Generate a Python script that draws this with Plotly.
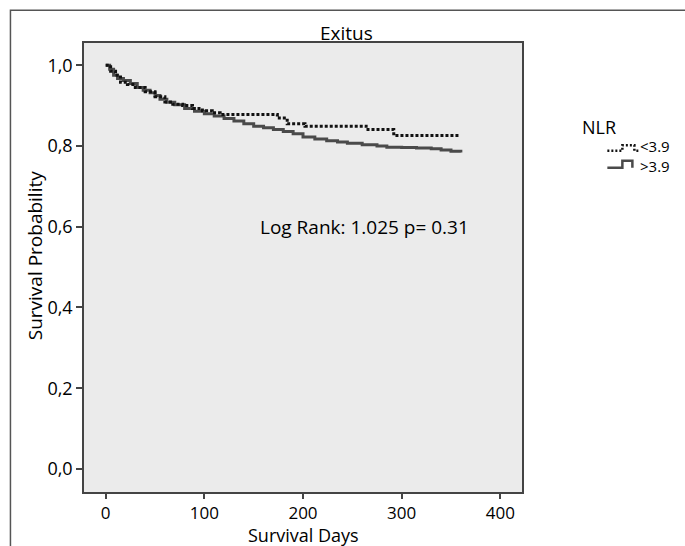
import plotly.graph_objects as go

# ---- data ----
days_high = [0, 4, 8, 12, 18, 25, 32, 38, 45, 50, 55, 62, 70, 80, 90, 100, 110, 120, 130,
             140, 150, 160, 170, 180, 190, 200, 212, 224, 235, 245, 260, 275, 285, 300,
             315, 330, 340, 350, 360]
surv_high = [1.0, 0.99, 0.975, 0.967, 0.962, 0.955, 0.945, 0.938, 0.932, 0.925, 0.916, 0.908,
             0.902, 0.893, 0.886, 0.880, 0.874, 0.868, 0.862, 0.855, 0.849, 0.845, 0.841,
             0.836, 0.830, 0.822, 0.817, 0.813, 0.810, 0.807, 0.803, 0.800, 0.797, 0.796,
             0.795, 0.793, 0.790, 0.787, 0.784]

days_low = [0, 5, 10, 15, 22, 30, 40, 50, 60, 68, 78, 88, 98, 108, 116, 174, 184, 202, 264,
            292, 358]
surv_low = [1.0, 0.985, 0.975, 0.958, 0.952, 0.945, 0.934, 0.922, 0.909, 0.903, 0.900, 0.893,
            0.887, 0.882, 0.878, 0.869, 0.855, 0.849, 0.841, 0.826, 0.826]

y_tickvals = [0.0, 0.2, 0.4, 0.6, 0.8, 1.0]
y_ticktext = ["0,0", "0,2", "0,4", "0,6", "0,8", "1,0"]
x_tickvals = [0, 100, 200, 300, 400]
x_ticktext = ["0", "100", "200", "300", "400"]

group_names = ["<3.9", ">3.9"]
title_text = "Exitus"
legend_title = "NLR"
logrank_text = "Log Rank: 1.025 p= 0.31"

FONT = "Open Sans"
FS = 19
TFS = 17

W, H = 685, 546
L, R, T, B = 84, 521.7, 42.7, 491.7


def px(x):
    return (x - L) / (R - L)


def py(y):
    return (B - y) / (B - T)


fig = go.Figure()
fig.add_trace(go.Scatter(x=days_high, y=surv_high, mode="lines", line_shape="hv",
                         line=dict(color="#4a4a4a", width=3), name=group_names[1],
                         showlegend=False))
fig.add_trace(go.Scatter(x=days_low, y=surv_low, mode="lines", line_shape="hv",
                         line=dict(color="#111111", width=3, dash="3px,2px"),
                         name=group_names[0], showlegend=False))

shapes = []
# outer frame
shapes.append(dict(type="rect", xref="paper", yref="paper",
                   x0=px(10.5), x1=px(700), y0=py(560), y1=py(10),
                   line=dict(color="#555555", width=1.5), fillcolor="rgba(0,0,0,0)",
                   layer="below"))


def path(pts):
    return "M " + " L ".join(f"{px(a):.5f},{py(b):.5f}" for a, b in pts)


# legend icons
shapes.append(dict(type="path", xref="paper", yref="paper",
                   path=path([(607, 150.5), (622, 150.5), (622, 145), (634, 145), (634, 150.5), (638, 150.5)]),
                   line=dict(color="#111111", width=2.5, dash="2px,2px")))
shapes.append(dict(type="path", xref="paper", yref="paper",
                   path=path([(607, 167.5), (622, 167.5), (622, 160.5), (632, 160.5), (632, 167.5)]),
                   line=dict(color="#4a4a4a", width=2.5)))


def esc(s):
    return s.replace("<", "&lt;").replace(">", "&gt;")


def ann(text, x, y, xanchor="center", angle=0, size=FS):
    return dict(text=text, xref="paper", yref="paper", x=px(x), y=py(y),
                showarrow=False, textangle=angle, borderpad=0,
                font=dict(size=size, family=FONT, color="black"),
                xanchor=xanchor, yanchor="middle", align="left")


annotations = [
    ann(title_text, 346, 33),
    ann(logrank_text, 364, 227),
    ann(legend_title, 581, 127, "left", size=18),
    ann("<br>".join(esc(g) for g in group_names), 639, 155.5, "left", size=15),
    ann("Survival Probability", 35, 255, angle=-90),
    ann("Survival Days", 303, 535, size=18),
]

fig.update_layout(
    width=W, height=H,
    margin=dict(l=L, r=W - R, t=T, b=H - B),
    paper_bgcolor="white", plot_bgcolor="#ebebeb",
    shapes=shapes, annotations=annotations,
    font=dict(family=FONT, size=FS, color="black"),
)
fig.update_xaxes(range=[-22, 422], tickvals=x_tickvals, ticktext=x_ticktext,
                 showgrid=False, zeroline=False, showline=True, mirror=True,
                 linecolor="#444444", linewidth=1.5, ticks="outside", ticklen=5,
                 tickcolor="#444444", tickwidth=1.5,
                 tickfont=dict(size=TFS, family=FONT, color="black"))
fig.update_yaxes(range=[-0.057, 1.055], tickvals=y_tickvals, ticktext=y_ticktext,
                 showgrid=False, zeroline=False, showline=True, mirror=True,
                 linecolor="#444444", linewidth=1.5, ticks="outside", ticklen=6,
                 tickcolor="#444444", tickwidth=1.5,
                 tickfont=dict(size=TFS + 1, family=FONT, color="black"))

fig.write_html("out.html", config={"displayModeBar": False},
               post_script="document.body.style.margin='0';document.body.style.padding='0';")
